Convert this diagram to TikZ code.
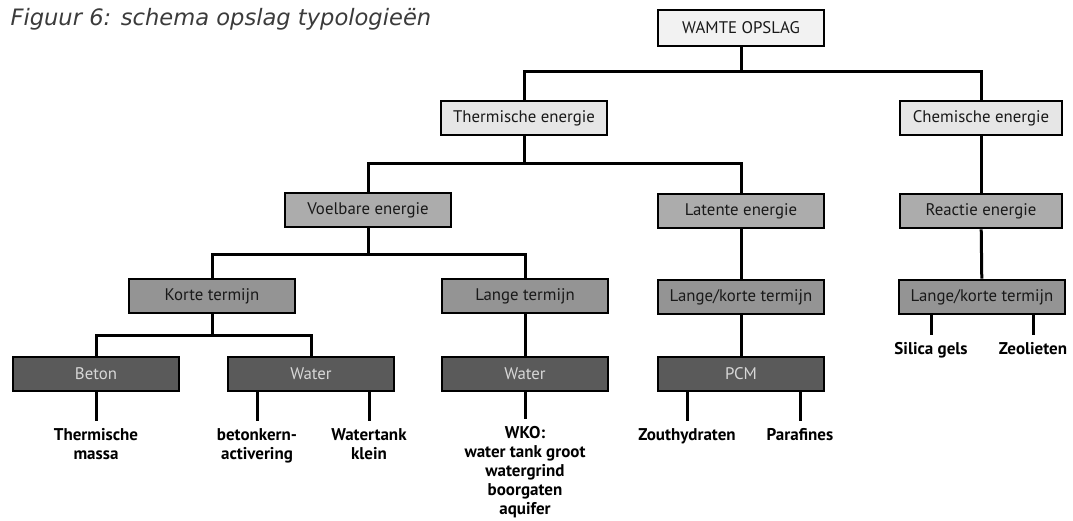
\documentclass[tikz,border=0pt]{standalone}
\usepackage{fontspec}
\setmainfont{PT Sans}
\newfontfamily\titlefont{DejaVu Sans}
\usetikzlibrary{positioning}
\definecolor{pale}{RGB}{242,242,242}
\definecolor{mist}{RGB}{230,230,230}
\definecolor{stone}{RGB}{172,172,172}
\definecolor{slate}{RGB}{148,148,148}
\definecolor{coal}{RGB}{90,90,90}
\definecolor{fog}{RGB}{215,215,215}
\definecolor{ink}{RGB}{25,25,25}
\tikzset{
  box/.style={draw=black,fill=#1,line width=2.6pt,minimum width=166pt,
    minimum height=34pt,inner sep=2pt,text=ink,font=\fontsize{16.8}{19}\selectfont},
  box/.default=mist,
  dark box/.style={box=coal,text=fog},
  link/.style={draw=black,line width=3pt},
  leaf/.style={anchor=north,align=center,inner xsep=1pt,inner ysep=7pt,
    text=black,font=\fontsize{17}{19}\selectfont\bfseries},
}
\begin{document}
\begin{tikzpicture}[x=1pt,y=-1pt]
  \useasboundingbox (0,0) rectangle (1073,520);
  \node[anchor=base west,text=ink!85,font=\titlefont\itshape\fontsize{22.6}{24}\selectfont]
    (title) at (7,25) {Figuur 6: schema opslag typologieën};
  % boxes
  \node[box=pale,minimum height=36pt] (wo) at (741,28) {WAMTE OPSLAG};
  \node[box] (te) at (524,118) {Thermische energie};
  \node[box,minimum width=162pt] (ce) at (981,118) {Chemische energie};
  \node[box=stone] (ve) at (368,210) {Voelbare energie};
  \node[box=stone] (le) at (741,211) {Latente energie};
  \node[box=stone,minimum width=162pt] (re) at (981,211) {Reactie energie};
  \node[box=slate] (kt) at (212,296) {Korte termijn};
  \node[box=slate] (lt) at (525,296) {Lange termijn};
  \node[box=slate] (lk1) at (741,297) {Lange/korte termijn};
  \node[box=slate] (lk2) at (982,297) {Lange/korte termijn};
  \node[dark box] (be) at (96,374) {Beton};
  \node[dark box] (wa1) at (311,374) {Water};
  \node[dark box] (wa2) at (525,374) {Water};
  \node[dark box] (pcm) at (741,374) {PCM};
  % leaves
  \node[leaf] (tm) at (96,421) {Thermische\\massa};
  \node[leaf] (bk) at (257,421) {betonkern-\\activering};
  \node[leaf] (wk) at (369,421) {Watertank\\klein};
  \node[leaf] (wko) at (525,419) {WKO:\\water tank groot\\watergrind\\boorgaten\\aquifer};
  \node[leaf] (zh) at (687,421) {Zouthydraten};
  \node[leaf] (pf) at (800,421) {Parafines};
  \node[leaf] (sg) at (931,335) {Silica gels};
  \node[leaf] (zl) at (1033,335) {Zeolieten};
  % connectors
  \coordinate (bar0) at (0,71);
  \coordinate (bar1) at (0,163);
  \coordinate (bar2) at (0,254);
  \coordinate (bar3) at (0,335);
  \draw[link] (wo.south) -- (wo.south |- bar0);
  \draw[link] (te.north) |- (ce.north |- bar0) -- (ce.north);
  \draw[link] (te.south) -- (te.south |- bar1);
  \draw[link] (ve.north) |- (le.north |- bar1) -- (le.north);
  \draw[link] (ve.south) -- (ve.south |- bar2);
  \draw[link] (kt.north) |- (lt.north |- bar2) -- (lt.north);
  \draw[link] (kt.south) -- (kt.south |- bar3);
  \draw[link] (be.north) |- (wa1.north |- bar3) -- (wa1.north);
  \draw[link] (ce) -- (re);
  \draw[link] (le) -- (lk1);
  \draw[link] (re) -- (lk2);
  \draw[link] (lt) -- (wa2);
  \draw[link] (lk1) -- (pcm);
  \draw[link] (be.south -| tm.north) -- (tm.north);
  \draw[link] (wa1.south -| bk.north) -- (bk.north);
  \draw[link] (wa1.south -| wk.north) -- (wk.north);
  \draw[link] (wa2.south -| wko.north) -- (wko.north);
  \draw[link] (pcm.south -| zh.north) -- (zh.north);
  \draw[link] (pcm.south -| pf.north) -- (pf.north);
  \draw[link] (lk2.south -| sg.north) -- (sg.north);
  \draw[link] (lk2.south -| zl.north) -- (zl.north);
\end{tikzpicture}
\end{document}
